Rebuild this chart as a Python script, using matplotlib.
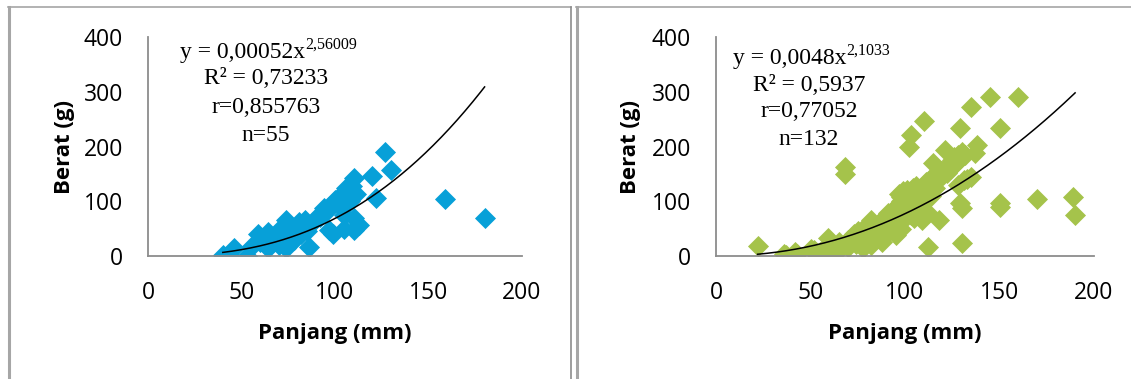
import numpy as np
import matplotlib
matplotlib.use("Agg")
import matplotlib.pyplot as plt
from matplotlib.lines import Line2D

# left panel: n=55
len_a = [40, 44, 46, 53, 55, 59, 60, 62, 64, 64, 65, 67, 68, 70, 70, 72, 74, 74, 75, 77,
         78, 80, 81, 82, 84, 85, 86, 88, 90, 92, 94, 95, 97, 97, 99, 100, 101, 103, 105, 105,
         106, 107, 108, 109, 110, 110, 110, 111, 113, 120, 122, 127, 130, 159, 180]
wt_a = [2, 0, 14, 0, 17, 41, 25, 30, 14, 44, 35, 28, 38, 47, 20, 32, 66, 14, 55, 45,
        30, 54, 63, 40, 66, 45, 17, 63, 70, 72, 87, 81, 90, 47, 41, 102, 105, 90, 75, 50,
        124, 114, 100, 127, 142, 69, 47, 114, 57, 146, 106, 190, 157, 104, 69]

# right panel: n=132
len_b = [22, 36, 37, 42, 43, 50, 52, 55, 57, 59, 60, 62, 63, 65, 66, 68, 68, 70, 70, 72,
         73, 74, 75, 76, 77, 78, 79, 80, 81, 82, 82, 84, 85, 86, 87, 88, 89, 90, 90, 91,
         92, 93, 94, 95, 95, 96,
         97, 97, 98, 98, 99, 99, 100, 100, 100, 101, 101, 102, 102, 103, 103, 104, 104, 105,
         105, 105, 106, 106, 107, 107, 108, 108, 109, 109, 110, 110, 110, 111, 111, 112, 112,
         113, 113, 114, 115, 115, 116, 116, 117, 118, 118, 119, 120, 121, 121, 122, 123, 124,
         125, 126, 127, 128, 129, 130, 131, 128,
         102, 103, 110, 112, 129, 130, 129, 130, 135, 138, 137, 135, 145, 150, 150, 150, 160,
         170, 189, 190, 133, 132,
         96, 98, 106, 114]
wt_b = [18, 4, 2, 8, 4, 12, 11, 8, 13, 32, 20, 8, 12, 25, 15, 163, 150, 17, 30, 35,
        41, 22, 45, 28, 47, 14, 35, 40, 50, 66, 20, 30, 55, 45, 62, 25, 70, 41, 60, 78,
        50, 72, 85, 38, 60, 80,
        114, 95, 100, 108, 90, 118, 105, 112, 70, 98, 120, 110, 102, 75, 115, 108, 125, 118,
        100, 70, 112, 128, 122, 105, 115, 72, 66, 125, 130, 118, 105, 122, 135, 128, 78,
        140, 120, 132, 169, 145, 138, 125, 150, 142, 66, 155, 148, 194, 160, 152, 165, 158,
        175, 180, 170, 185, 178, 190, 139, 130,
        200, 221, 247, 17, 233, 23, 96, 87, 273, 203, 188, 145, 291, 233, 96, 90, 290,
        105, 108, 75, 140, 185,
        65, 50, 90, 110]

coef_a, exp_a = 0.00052, 2.56009
coef_b, exp_b = 0.0048, 2.1033
stats_a = ["y = 0,00052x", "2,56009", "R² = 0,73233", "r=0,855763", "n=55"]
stats_b = ["y = 0,0048x", "2,1033", "R² = 0,5937", "r=0,77052", "n=132"]

plt.rcParams['font.family'] = ['Open Sans', 'DejaVu Sans']

fig = plt.figure(figsize=(11.31, 3.79), dpi=100)
W, H = 1131, 379


def px_axes(x0, x1, y0, y1):
    return fig.add_axes([x0 / W, 1 - y1 / H, (x1 - x0) / W, (y1 - y0) / H])


def panel(ax, xs, ys, color, coef, expo, stats, tx, xend, lines_y, ylab_x):
    ax.scatter(xs, ys, marker='D', s=115, color=color, linewidths=0, zorder=2)
    xf = np.linspace(min(xs), max(xs), 200)
    ax.plot(xf, coef * xf ** expo, color='black', lw=1.1, zorder=3)
    ax.set_xlim(0, 200)
    ax.set_ylim(0, 400)
    ax.set_xticks([0, 50, 100, 150, 200])
    ax.set_yticks([0, 100, 200, 300, 400])
    for s in ['top', 'right']:
        ax.spines[s].set_visible(False)
    for s in ['left', 'bottom']:
        ax.spines[s].set_color('#8c8c8c')
        ax.spines[s].set_linewidth(1.3)
    ax.tick_params(length=0, labelsize=16.5, pad=18)
    ax.set_xlabel('Panjang (mm)', fontsize=16, fontweight='bold', va='center')
    ax.set_ylabel('Berat (g)', fontsize=16, fontweight='bold', va='center')
    ax.xaxis.set_label_coords(0.5, -0.352)
    ax.yaxis.set_label_coords(ylab_x, 0.5)
    ax.patch.set_alpha(0)

    serif = 'Liberation Serif'
    main = ax.text(xend, lines_y[0], stats[0], transform=ax.transAxes, ha='right',
                   va='center', fontsize=17, family=serif)
    ax.annotate(stats[1], xy=(1.0, 0.66), xycoords=main, ha='left', va='baseline',
                fontsize=11.5, family=serif)
    for t, y in zip(stats[2:], lines_y[1:]):
        ax.text(tx, y, t, transform=ax.transAxes, ha='center', va='center',
                fontsize=17, family=serif)


ax1 = px_axes(148, 522, 37, 256)
ax2 = px_axes(716, 1094, 37, 256)
panel(ax1, len_a, wt_a, '#07a0d8', coef_a, exp_a, stats_a, 0.315, 0.421,
      [0.93, 0.81, 0.68, 0.55], -0.222)
panel(ax2, len_b, wt_b, '#a5c34b', coef_b, exp_b, stats_b, 0.246, 0.344,
      [0.904, 0.78, 0.658, 0.534], -0.2275)

# panel frames
def fline(x, y, lw, c='#a6a6a6'):
    fig.add_artist(Line2D([v / W for v in x], [1 - v / H for v in y], lw=lw, color=c))

fline([8.5, 8.5], [6.5, 379], 2.2)
fline([8, 571], [6.5, 6.5], 1.2)
fline([571, 571], [6.5, 379], 1.2, '#8c8c8c')
fline([576.5, 576.5], [6.5, 379], 2.2)
fline([576, 1131], [6.5, 6.5], 1.2)

fig.savefig('out.png', dpi=100)
